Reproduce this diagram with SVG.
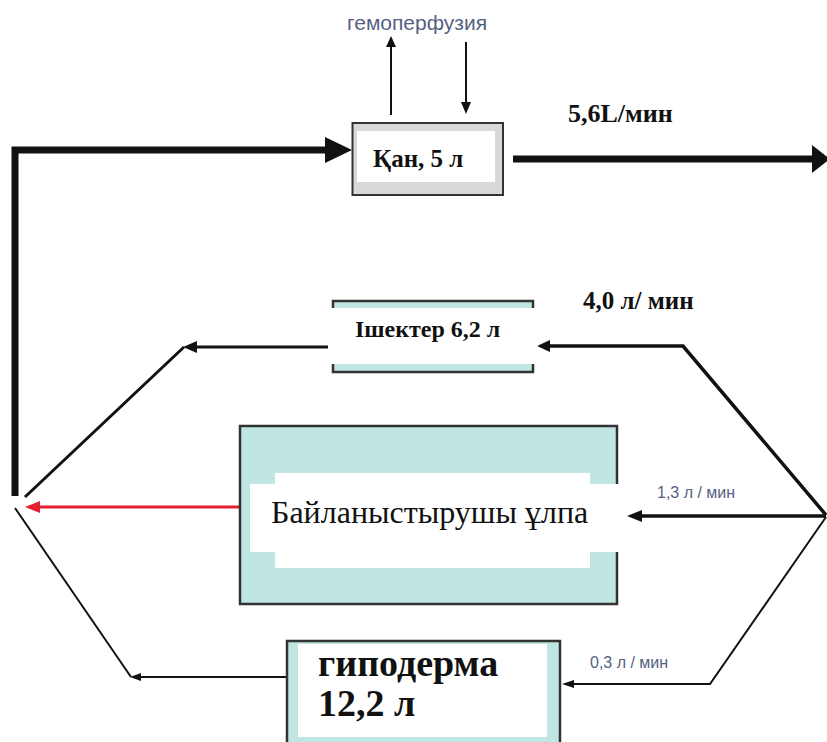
<svg xmlns="http://www.w3.org/2000/svg" width="827" height="742" viewBox="0 0 827 742">
<style>
.sb{font-family:"Liberation Serif","Times New Roman","DejaVu Serif",serif;font-weight:bold;fill:#111}
.sr{font-family:"Liberation Serif","Times New Roman","DejaVu Serif",serif;fill:#111}
.lbl{font-family:"Liberation Sans",Arial,sans-serif;fill:#56617f}
.teal{fill:#bfe6e2;stroke:#333;stroke-width:2.5}
.white{fill:#fff}
.ln{fill:none;stroke:#111;stroke-linejoin:miter}
.head{fill:#111}
</style>
<rect width="827" height="742" fill="#fff"/>

<g id="connectors">
  <path class="ln" d="M15,496 L15,150 L328,150" stroke-width="7"/>
  <polygon class="head" points="325,137 352,150 325,163"/>
  <line class="ln" x1="513" y1="159" x2="815" y2="159" stroke-width="7"/>
  <polygon class="head" points="812,145 830,159 812,173"/>
  <line class="ln" x1="391" y1="115" x2="391" y2="44" stroke-width="2"/>
  <polygon class="head" points="386,47 391,36 396,47"/>
  <line class="ln" x1="466" y1="42" x2="466" y2="104" stroke-width="2"/>
  <polygon class="head" points="461,102 466,114 471,102"/>
  <path class="ln" d="M826,515 L683,346 L548,346" stroke-width="3.5"/>
  <polygon class="head" points="550,340 537,346 550,352"/>
  <line class="ln" x1="330" y1="347" x2="195" y2="347" stroke-width="3"/>
  <polygon class="head" points="197,341 183,347 197,353"/>
  <line class="ln" x1="184" y1="347" x2="25" y2="497" stroke-width="3"/>
  <line class="ln" x1="826" y1="516" x2="640" y2="516" stroke-width="3.5"/>
  <polygon class="head" points="642,510 627,516 642,522"/>
  <path class="ln" d="M826,517 L710,684 L572,684" stroke-width="2"/>
  <polygon class="head" points="574,680 562,684 574,688"/>
  <line class="ln" x1="287" y1="677" x2="140" y2="677" stroke-width="2"/>
  <polygon class="head" points="141,673 130,677 141,681"/>
  <line class="ln" x1="131" y1="677" x2="15" y2="508" stroke-width="2"/>
  <line x1="243" y1="507" x2="38" y2="507" stroke="#e5202e" stroke-width="3"/>
  <polygon points="40,501 25,507 40,513" fill="#e5202e"/>
</g>

<g id="label-hemo"><text class="lbl" x="347" y="30" font-size="21">гемоперфузия</text></g>
<g id="label-56"><text class="sb" x="568" y="122" font-size="26">5,6L/мин</text></g>
<g id="label-40"><text class="sb" x="583" y="309" font-size="25">4,0 л/ мин</text></g>
<g id="label-13"><text class="lbl" x="657" y="498" font-size="16">1,3 л / мин</text></g>
<g id="label-03"><text class="lbl" x="590" y="668" font-size="16">0,3 л / мин</text></g>

<g id="node-blood">
  <rect x="352.5" y="123" width="150.5" height="72" fill="#d9d9d9" stroke="#333" stroke-width="2"/>
  <rect class="white" x="357" y="131" width="138" height="51"/>
  <text class="sb" x="373" y="167" font-size="25">Қан, 5 л</text>
</g>

<g id="node-intestine">
  <rect class="teal" x="333" y="301" width="200" height="71"/>
  <rect class="white" x="328" y="308" width="210" height="56"/>
  <text class="sb" x="355" y="337" font-size="24">Ішектер 6,2 л</text>
</g>

<g id="node-connective">
  <rect class="teal" x="240" y="426" width="377" height="178"/>
  <rect class="white" x="275" y="473" width="315" height="95"/>
  <rect class="white" x="250" y="484" width="369" height="68"/>
  <text class="sr" x="271" y="523" font-size="32">Байланыстырушы ұлпа</text>
</g>

<g id="node-hypodermis">
  <rect class="teal" x="287" y="641" width="273" height="120"/>
  <rect class="white" x="298" y="644" width="249" height="93"/>
  <text class="sb" x="318" y="676" font-size="38">гиподерма</text>
  <text class="sb" x="318" y="716" font-size="38">12,2 л</text>
</g>
</svg>
